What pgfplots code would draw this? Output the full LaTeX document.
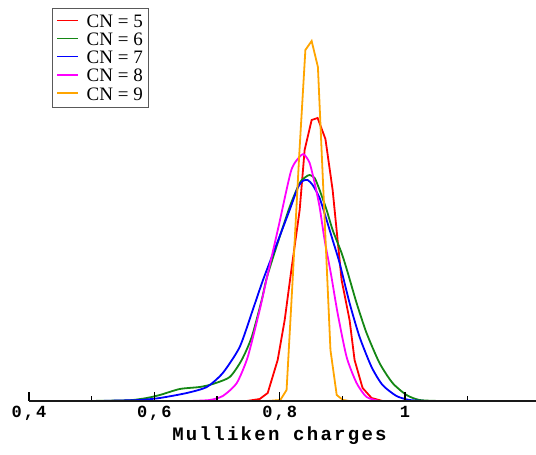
\documentclass[border=0pt]{standalone}
\usepackage{fontspec}
\setmainfont{Liberation Serif}
\newfontfamily\monob[LetterSpace=12]{Liberation Mono}
\usepackage{pgfplots}
\pgfplotsset{compat=1.18}
\definecolor{cred}{RGB}{255,0,0}
\definecolor{cgreen}{RGB}{20,135,20}
\definecolor{cblue}{RGB}{0,0,255}
\definecolor{cmag}{RGB}{255,0,255}
\definecolor{myorange}{RGB}{255,165,0}
\begin{document}
\begin{tikzpicture}
\path[use as bounding box] (-29pt,-54pt) rectangle (507pt,401pt);
\begin{axis}[
  scale only axis, width=507pt, height=401pt,
  xmin=0.4, xmax=1.209, ymin=0, ymax=401,
  axis x line*=bottom, axis y line=none,
  axis line style={-, line width=1.6pt, black!90},
  axis on top,
  xtick={0.4,0.6,0.8,1}, xticklabels={{0,4},{0,6},{0,8},{1}},
  major tick length=0pt,
  xticklabel style={anchor=base, yshift=-17pt, font=\monob\bfseries\fontsize{17}{17}\selectfont},
  xlabel={Mulliken charges},
  xlabel style={at={(axis description cs:0.5,0)}, anchor=base, yshift=-40pt, xshift=-3pt, font=\monob\bfseries\fontsize{19}{19}\selectfont},
  clip=false,
  every axis plot/.append style={line width=1.8pt},
]
\addplot[cred] coordinates {
(0.7474,0) (0.7681,2) (0.7809,8) (0.7968,41) (0.8080,81) (0.8186,131)
(0.8319,191) (0.8398,251) (0.8510,281) (0.8605,283) (0.8730,262)
(0.8845,211) (0.8924,161) (0.8988,121) (0.9115,81) (0.9195,41)
(0.9323,13) (0.9466,3) (0.9641,0)};
\addplot[cgreen, smooth, tension=0.4] coordinates {
(0.4972,0) (0.5450,0.5) (0.5657,1) (0.5880,3) (0.6088,6) (0.6406,12)
(0.6725,14) (0.6932,17) (0.7203,24) (0.7394,41) (0.7554,64) (0.7713,101)
(0.7793,123) (0.7947,154) (0.8159,194) (0.8319,218) (0.8414,224)
(0.8478,226) (0.8558,223) (0.8637,211) (0.8749,191) (0.8845,171)
(0.8988,148) (0.9083,129) (0.9227,98) (0.9386,68) (0.9593,38)
(0.9801,18) (1.0024,6) (1.0231,1) (1.0549,0)};
\addplot[cblue, smooth, tension=0.4] coordinates {
(0.5131,0) (0.5450,0.5) (0.5769,1) (0.6088,3) (0.6518,8) (0.6837,14)
(0.7092,28) (0.7362,54) (0.7570,91) (0.7734,121) (0.7947,156)
(0.8159,191) (0.8287,213) (0.8366,220) (0.8446,221) (0.8526,216)
(0.8637,203) (0.8749,181) (0.8845,161) (0.8956,138) (0.9115,98)
(0.9275,64) (0.9466,34) (0.9641,16) (0.9864,5) (1.0072,1) (1.0342,0)};
\addplot[cmag, smooth, tension=0.4] coordinates {
(0.6566,0) (0.6884,1) (0.7092,5) (0.7315,18) (0.7490,44) (0.7681,91)
(0.7788,121) (0.7984,175) (0.8186,231) (0.8346,246) (0.8398,246)
(0.8478,238) (0.8558,218) (0.8637,194) (0.8717,161) (0.8821,126)
(0.8924,88) (0.9068,44) (0.9227,18) (0.9386,4) (0.9593,0)};
\addplot[myorange] coordinates {
(0.781,0) (0.801,1) (0.811,11) (0.821,125) (0.831,244) (0.841,351)
(0.851,360) (0.861,334) (0.871,192) (0.881,51) (0.891,6) (0.901,1) (0.911,0)};
% tick marks (major 9 units = 9pt, minor 5)
\addplot[black, ycomb, mark=none, line width=1.2pt, forget plot] coordinates {
(0.4,9) (0.6,9) (0.8,9) (1.0,9)};
\addplot[black, ycomb, mark=none, line width=1.2pt, forget plot] coordinates {
(0.5,5) (0.7,5) (0.9,5) (1.1,5)};
\coordinate (L) at (axis description cs:0.0454,0.980);
\draw[black!65, line width=0.8pt, fill=white] (L) rectangle ++(96pt,-99pt);
\draw[cred, line width=1.8pt] ([shift={(5pt,-12.5pt)}]L) -- ++(21pt,0pt);
\draw[cgreen, line width=1.8pt] ([shift={(5pt,-30.5pt)}]L) -- ++(21pt,0pt);
\draw[cblue, line width=1.8pt] ([shift={(5pt,-48.5pt)}]L) -- ++(21pt,0pt);
\draw[cmag, line width=1.8pt] ([shift={(5pt,-67pt)}]L) -- ++(21pt,0pt);
\draw[myorange, line width=1.8pt] ([shift={(5pt,-85pt)}]L) -- ++(21pt,0pt);
\node[anchor=base west, inner sep=0pt, font=\fontsize{19}{19}\selectfont] at ([shift={(34.5pt,-19.3pt)}]L) {CN = 5};
\node[anchor=base west, inner sep=0pt, font=\fontsize{19}{19}\selectfont] at ([shift={(34.5pt,-37.5pt)}]L) {CN = 6};
\node[anchor=base west, inner sep=0pt, font=\fontsize{19}{19}\selectfont] at ([shift={(34.5pt,-55.7pt)}]L) {CN = 7};
\node[anchor=base west, inner sep=0pt, font=\fontsize{19}{19}\selectfont] at ([shift={(34.5pt,-73.9pt)}]L) {CN = 8};
\node[anchor=base west, inner sep=0pt, font=\fontsize{19}{19}\selectfont] at ([shift={(34.5pt,-92.1pt)}]L) {CN = 9};
\end{axis}
\end{tikzpicture}
\end{document}
